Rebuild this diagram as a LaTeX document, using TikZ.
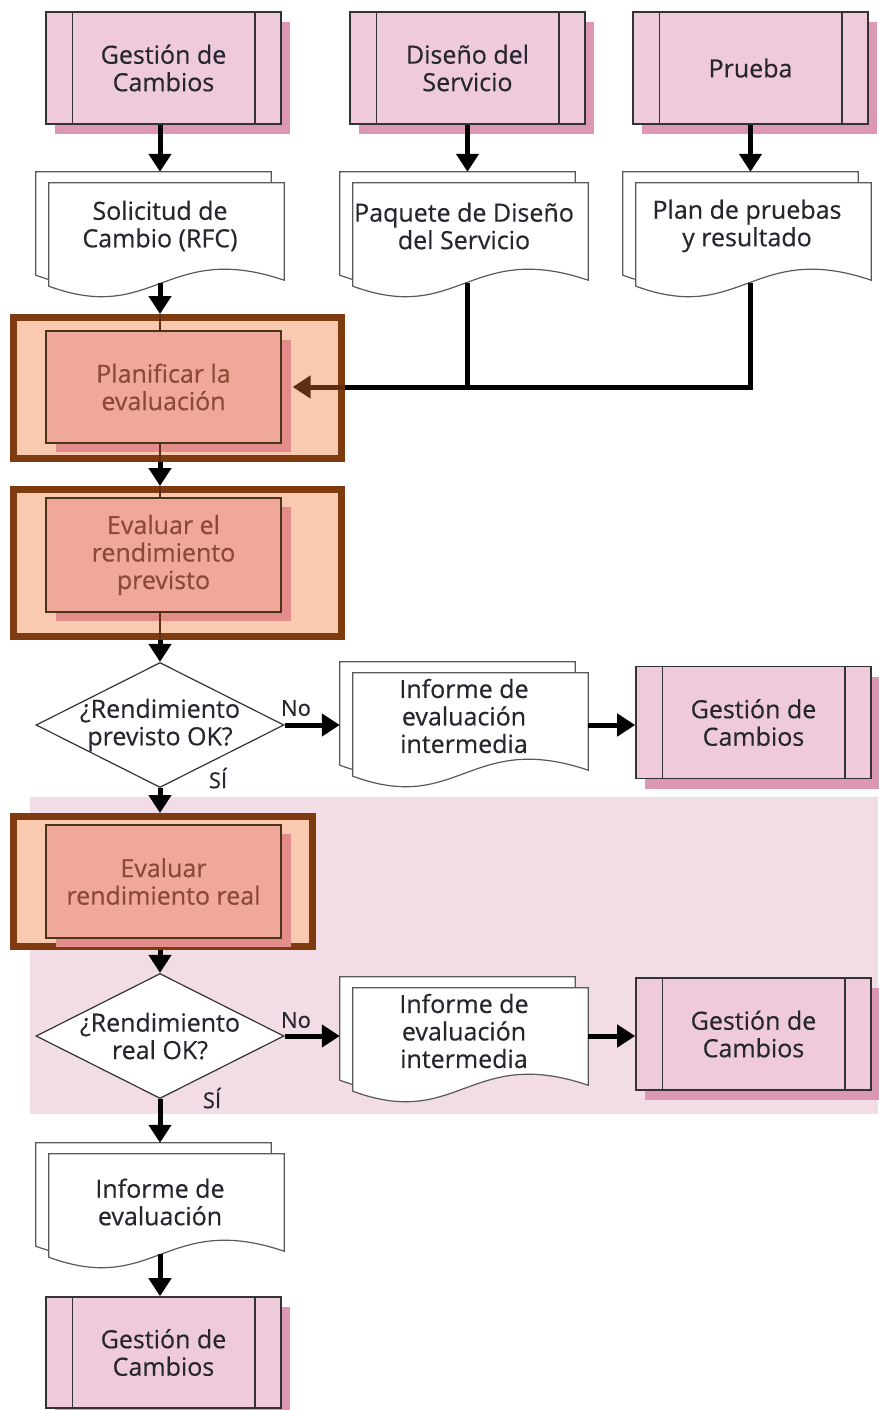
\documentclass[tikz,border=0pt]{standalone}
\usepackage{fontspec}
\setmainfont{Open Sans}[FakeBold=0.4]
\usetikzlibrary{arrows.meta,shapes.geometric,shadows,calc}

\definecolor{procfill}{HTML}{EFCADB}
\definecolor{procshadow}{HTML}{DB97B3}
\definecolor{bandpink}{HTML}{F2DCE6}
\definecolor{framefill}{HTML}{F9C9B0}
\definecolor{framebrown}{HTML}{7E3B10}
\definecolor{actfill}{HTML}{EFA899}
\definecolor{actshadow}{HTML}{E28C8C}
\definecolor{acttext}{HTML}{8A4A35}
\definecolor{ink}{HTML}{26262F}
\definecolor{stubbrown}{HTML}{5E2E14}

\tikzset{
  txt/.style={font=\fontsize{25}{27.5}\selectfont, text=ink, align=center},
  proc/.style={draw=black!80, line width=1.6pt, fill=procfill,
    minimum width=235pt, minimum height=112pt, inner sep=0pt, txt,
    general shadow={fill=procshadow, shadow xshift=9pt, shadow yshift=-10pt}},
  barline/.style={draw=black!80, line width=1.4pt},
  frame/.style={draw=framebrown, line width=7pt, fill=framefill, inner sep=0pt},
  act/.style={draw=black!60!brown, line width=1.3pt, fill=actfill,
    minimum width=235pt, inner sep=0pt, txt, text=acttext,
    general shadow={fill=actshadow, shadow xshift=10pt, shadow yshift=-9pt}},
  docbox/.style={minimum width=248pt, minimum height=108pt, inner sep=0pt},
  docline/.style={draw=black!65, line width=1.2pt, fill=white},
  dia/.style={diamond, draw=black!80, line width=1.2pt, fill=white,
    minimum width=248pt, minimum height=125pt, inner sep=0pt},
  flow/.style={line width=5pt, -{Triangle[width=22pt,length=18pt]}},
  flowplain/.style={line width=5pt},
  fbarrow/.style={draw=stubbrown, line width=5pt,
    -{Triangle[width=22pt,length=18pt]}},
  stub/.style={draw=stubbrown, line width=2.5pt},
  lbl/.style={font=\fontsize{22}{24}\selectfont, text=ink, inner sep=0pt}
}

% two stacked sheets of a document symbol, drawn inside the named node
\newcommand{\docsheets}[1]{%
  \draw[docline] let \p1=(#1.north west), \p2=(#1.south east) in
    (\x1,\y1) -- (\x2-13pt,\y1) -- (\x2-13pt,\y2+11pt)
    .. controls (\x1+117.5pt,\y2+51pt) and (\x1+105.75pt,\y2-34pt) ..
    (\x1,\y2+5pt) -- cycle;
  \draw[docline] let \p1=(#1.north west), \p2=(#1.south east) in
    (\x1+13pt,\y1-11pt) -- (\x2,\y1-11pt) -- (\x2,\y2)
    .. controls (\x1+130.5pt,\y2+40pt) and (\x1+118.75pt,\y2-45pt) ..
    (\x1+13pt,\y2-6pt) -- cycle;
  \coordinate (#1-out) at ([yshift=-3pt]#1.south);}

% side bars of a predefined-process box
\newcommand{\procbars}[1]{%
  \draw[barline] ([xshift=27pt]#1.north west) -- ([xshift=27pt]#1.south west)
    ([xshift=-27pt]#1.north east) -- ([xshift=-27pt]#1.south east);}

\begin{document}
\begin{tikzpicture}[x=1pt,y=-1pt]
\useasboundingbox (0,0) rectangle (878,1410);

% shaded band behind the actual-performance stage
\fill[bandpink] (30,797) rectangle (878,1114);

% top row: source processes
\node[proc] (b1) at (163.5,68) {Gestión de\\Cambios};
\node[proc] (b2) at (467.5,68) {Diseño del\\Servicio};
\node[proc] (b3) at (750.5,68) {Prueba};
\procbars{b1}\procbars{b2}\procbars{b3}

% input documents
\node[docbox] (d1) at (160,226) {};
\node[docbox] (d2) at (464,226) {};
\node[docbox] (d3) at (747,226) {};
\docsheets{d1}\docsheets{d2}\docsheets{d3}
\node[txt] (d1t) at (d1) {Solicitud de\\Cambio (RFC)};
\node[txt] (d2t) at (d2) {Paquete de Diseño\\del Servicio};
\node[txt] (d3t) at (d3) {Plan de pruebas\\y resultado};

% evaluation activities
\node[frame, minimum width=328pt, minimum height=141pt] (f1) at (177.5,388) {};
\node[act, minimum height=112pt] (p1) at (163.5,387) {Planificar la\\evaluación};
\node[frame, minimum width=328pt, minimum height=147pt] (f2) at (177.5,563) {};
\node[act, minimum height=114pt] (p2) at (163.5,555) {Evaluar el\\rendimiento\\previsto};

% first decision
\node[dia] (q1) at (160,725) {};
\node[txt] (q1t) at (q1) {¿Rendimiento\\previsto OK?};
\node[docbox] (d4) at (464,716) {};
\docsheets{d4}
\node[txt] (d4t) at (d4) {Informe de\\evaluación\\intermedia};
\node[proc] (b4) at (753.5,722.5) {Gestión de\\Cambios};
\procbars{b4}

% actual performance stage
\node[frame, minimum width=299pt, minimum height=130pt] (f3) at (163,881.5) {};
\node[act, minimum height=113pt] (p3) at (163.5,881.5) {Evaluar\\rendimiento real};
\node[dia] (q2) at (160,1036) {};
\node[txt] (q2t) at (q2) {¿Rendimiento\\real OK?};
\node[docbox] (d5) at (464,1031) {};
\docsheets{d5}
\node[txt] (d5t) at (d5) {Informe de\\evaluación\\intermedia};
\node[proc] (b5) at (753.5,1034) {Gestión de\\Cambios};
\procbars{b5}

% final report
\node[docbox] (d6) at (160,1197) {};
\docsheets{d6}
\node[txt] (d6t) at ([yshift=-5pt]d6.center) {Informe de\\evaluación};
\node[proc, minimum height=111pt] (b6) at (163.5,1352.5) {Gestión de\\Cambios};
\procbars{b6}

% connectors
\draw[flow] (b1.south -| d1.north) -- (d1.north);
\draw[flow] (b2.south) -- (b2.south |- d2.north);
\draw[flow] (b3.south) -- (b3.south |- d3.north);

\draw[flow] (d1-out) -- (d1-out |- f1.north);
\draw[stub] (f1.north -| d1.south) -- (p1.north -| d1.south);
\draw[flowplain] (d2-out -| b2.south) -- (b2.south |- p1.east);
\draw[flowplain] (d3-out -| b3.south) |- (f1.east |- p1.east);
\draw[fbarrow] (f1.east |- p1.east) -- ([xshift=11pt]p1.east);

\draw[stub] (p1.south -| d1.south) -- (f1.south -| d1.south);
\draw[flow] (f1.south -| d1.south) -- (f2.north -| d1.south);
\draw[stub] (f2.north -| d1.south) -- (p2.north -| d1.south);
\draw[stub] (p2.south -| q1.north) -- (f2.south -| q1.north);
\draw[flow] (f2.south -| q1.north) -- (q1.north);

\draw[flow] (q1.east) -- (q1.east -| d4.west);
\draw[flow] (q1.east -| d4.east) -- (q1.east -| b4.west);
\node[lbl] (no1) at (296,708) {No};
\node[lbl] (si1) at (218,778) {SÍ};
\draw[flow] (q1.south) -- (q1.south |- f3.north);

\draw[flow] (f3.south -| q2.north) -- (q2.north);
\draw[flow] (q2.east) -- (q2.east -| d5.west);
\draw[flow] (q2.east -| d5.east) -- (q2.east -| b5.west);
\node[lbl] (no2) at (296,1020) {No};
\node[lbl] (si2) at (212,1098) {SÍ};

\draw[flow] (q2.south) -- (q2.south |- d6.north);
\draw[flow] (d6-out) -- (d6-out |- b6.north);
\end{tikzpicture}
\end{document}
